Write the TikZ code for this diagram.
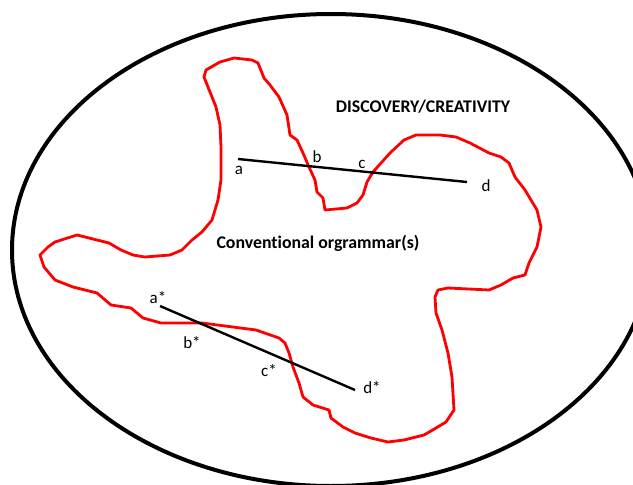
\documentclass[tikz,border=0pt]{standalone}
\usepackage{fontspec}
\setmainfont{Carlito}[Ligatures=NoCommon]
\begin{document}
\begin{tikzpicture}[x=1pt,y=-1pt,
  blob/.style={draw=red, line width=2.8pt, line join=round, line cap=round},
  seg/.style={draw=black, line width=2.4pt},
  lbl/.style={inner sep=0pt, font=\fontsize{17}{19}\selectfont},
  title/.style={inner sep=0pt, font=\fontsize{17.8}{20}\selectfont\bfseries}]
\useasboundingbox (0,0) rectangle (633,485);
\path[fill=white] (0,0) rectangle (633,485);
% outer ellipse
\draw[line width=4pt] (331,250) ellipse [x radius=319, y radius=236];
% red region
\draw[blob] (206,70) -- (220,62) -- (234,58) -- (252,60) -- (258,63) -- (264,78) -- (270,85)
 -- (279,97) -- (287,115) -- (290,135) -- (297,140) -- (303,153) -- (309,167) -- (315,180)
 -- (317,192) -- (323,198) -- (325,210) -- (347,208) -- (357,203) -- (363,195) -- (367,182)
 -- (373,172) -- (390,153) -- (404,140) -- (416,135) -- (440,135) -- (456,137) -- (470,143)
 -- (489,153) -- (501,157) -- (509,163) -- (515,177) -- (525,190) -- (537,210) -- (541,227)
 -- (537,247) -- (529,263) -- (525,275) -- (513,278) -- (501,285) -- (489,290) -- (448,288)
 -- (438,290) -- (435,297) -- (436,313) -- (442,330) -- (448,353) -- (452,377) -- (454,410)
 -- (446,422) -- (436,428) -- (424,435) -- (404,440) -- (388,442) -- (371,438) -- (355,433)
 -- (343,427) -- (331,418) -- (329,410) -- (313,405) -- (303,397) -- (299,383) -- (293,367)
 -- (289,353) -- (285,343) -- (279,338) -- (256,330) -- (202,323) -- (161,323) -- (143,318)
 -- (131,308) -- (111,305) -- (97,293) -- (73,287) -- (55,280) -- (44,267) -- (40,255)
 -- (48,247) -- (55,242) -- (77,235) -- (97,240) -- (109,243) -- (121,250) -- (133,255)
 -- (145,257) -- (170,255) -- (182,250) -- (192,240) -- (202,232) -- (212,220) -- (218,200)
 -- (221,180) -- (221,147) -- (220,125) -- (216,107) -- (210,92) -- (204,77) -- cycle;
% texts
\node[title] (disc) at (423,107) {DISCOVERY/CREATIVITY};
\node[title] (conv) at (318,243) {Conventional orgrammar(s)};
% first line
\coordinate (pa) at (238,159);
\coordinate (pd) at (467,182);
\draw[seg] (pa) -- (pd);
\node[lbl] (la) at (239,170) {a};
\node[lbl] (lb) at (317,157) {b};
\node[lbl] (lc) at (362,164) {c};
\node[lbl] (ld) at (486,186) {d};
% second line
\coordinate (qa) at (160,306);
\coordinate (qd) at (355,390);
\draw[seg] (qa) -- (qd);
\node[lbl] (lqa) at (158,298) {a*};
\node[lbl] (lqb) at (192,343) {b*};
\node[lbl] (lqc) at (269,371) {c*};
\node[lbl] (lqd) at (372,388) {d*};
\end{tikzpicture}
\end{document}
